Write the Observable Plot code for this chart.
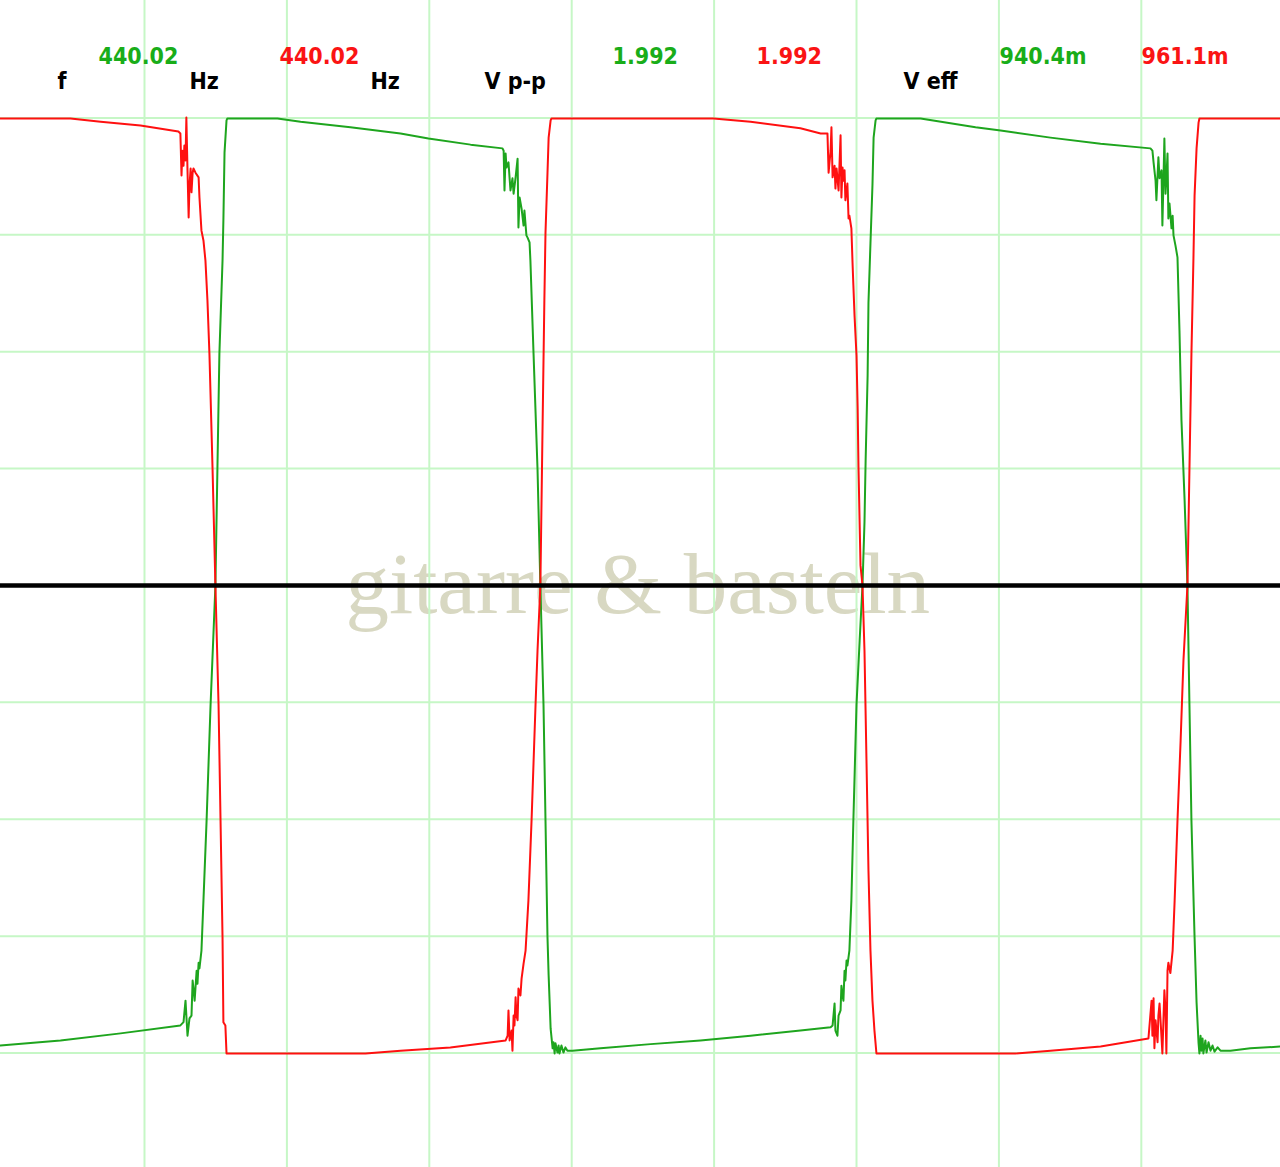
<!DOCTYPE html>
<html>
<head>
<meta charset="utf-8">
<script src="https://cdn.jsdelivr.net/npm/d3@7"></script>
<script src="https://cdn.jsdelivr.net/npm/@observablehq/plot@0.6"></script>
<style>
html,body{margin:0;padding:0;background:#fff;overflow:hidden}
#chart svg{display:block}
</style>
</head>
<body>
<div id="chart"></div>
<script>
// Time in microseconds (0.5 ms / division), voltage in millivolts (0.25 V / division)
const redTrace = [[-6,999],[240,999],[346,992],[486,984],[619,971],[626,967],[630,877],[633,930],[637,898],[640,941],[644,909],[647,1001],[651,888],[655,787],[658,856],[662,892],[665,841],[669,883],[672,892],[679,883],[690,873],[693,830],[700,759],[707,738],[714,695],[721,610],[728,496],[739,248],[749,0],[760,-255],[767,-503],[774,-753],[777,-934],[784,-941],[788,-1001],[1276,-1001],[1399,-995],[1574,-988],[1768,-973],[1775,-963],[1778,-909],[1782,-973],[1789,-952],[1792,-995],[1796,-920],[1799,-941],[1803,-881],[1806,-920],[1810,-930],[1813,-862],[1820,-877],[1824,-841],[1831,-809],[1838,-781],[1848,-674],[1859,-503],[1873,-255],[1880,-139],[1890,0],[1897,310],[1904,610],[1908,755],[1915,883],[1919,958],[1926,995],[1929,999],[2498,999],[2628,992],[2803,978],[2874,967],[2898,967],[2902,883],[2909,930],[2912,980],[2916,873],[2923,898],[2926,849],[2930,892],[2937,845],[2944,963],[2947,830],[2951,894],[2954,866],[2958,888],[2961,824],[2968,860],[2972,785],[2975,791],[2982,764],[2986,691],[2989,642],[2993,578],[3000,492],[3004,379],[3007,252],[3014,43],[3021,0],[3028,-139],[3035,-374],[3042,-610],[3049,-781],[3056,-888],[3063,-952],[3070,-1001],[3558,-1001],[3681,-995],[3857,-986],[4025,-969],[4036,-888],[4039,-963],[4043,-883],[4046,-990],[4050,-930],[4057,-977],[4060,-920],[4064,-894],[4071,-967],[4074,-1001],[4081,-866],[4085,-909],[4088,-1001],[4092,-824],[4095,-807],[4102,-829],[4110,-781],[4117,-674],[4127,-503],[4138,-332],[4148,-160],[4162,0],[4169,248],[4176,496],[4183,699],[4187,834],[4194,935],[4201,990],[4204,999],[4490,999]];

const greenTrace = [[-6,-984],[205,-973],[416,-958],[626,-941],[637,-934],[644,-888],[651,-963],[658,-926],[665,-920],[669,-845],[672,-862],[676,-888],[683,-824],[686,-852],[690,-807],[693,-819],[700,-781],[707,-674],[718,-503],[732,-255],[749,0],[756,248],[763,496],[774,695],[777,781],[781,926],[788,995],[791,999],[967,999],[1048,992],[1223,980],[1399,967],[1497,956],[1645,943],[1757,935],[1761,930],[1764,845],[1768,924],[1771,894],[1778,905],[1785,845],[1792,871],[1796,838],[1803,873],[1810,913],[1813,766],[1817,830],[1824,806],[1831,770],[1834,802],[1841,749],[1845,744],[1852,734],[1855,695],[1866,496],[1880,248],[1890,0],[1901,-255],[1908,-503],[1915,-753],[1919,-834],[1926,-948],[1933,-990],[1936,-977],[1940,-1001],[1943,-979],[1950,-999],[1954,-984],[1957,-1001],[1964,-984],[1971,-999],[1978,-988],[1985,-995],[2003,-995],[2101,-990],[2277,-981],[2452,-973],[2628,-963],[2803,-952],[2909,-945],[2916,-941],[2923,-894],[2926,-952],[2933,-963],[2937,-920],[2944,-909],[2947,-856],[2951,-877],[2954,-888],[2958,-824],[2961,-845],[2965,-802],[2968,-813],[2975,-781],[2982,-674],[2989,-503],[3000,-255],[3011,-118],[3021,0],[3028,135],[3032,267],[3039,449],[3042,605],[3049,732],[3056,856],[3060,958],[3067,995],[3070,999],[3225,999],[3418,980],[3506,973],[3681,958],[3857,945],[4032,935],[4039,930],[4043,905],[4050,866],[4053,824],[4060,916],[4064,871],[4071,888],[4074,770],[4078,873],[4081,956],[4085,838],[4088,871],[4092,924],[4095,785],[4099,817],[4106,764],[4110,791],[4113,749],[4120,727],[4127,702],[4134,545],[4141,353],[4152,182],[4162,0],[4169,-255],[4176,-503],[4187,-753],[4194,-892],[4201,-979],[4204,-1001],[4208,-963],[4211,-995],[4215,-969],[4218,-1001],[4225,-973],[4229,-999],[4236,-977],[4243,-995],[4250,-984],[4257,-997],[4268,-988],[4278,-995],[4313,-995],[4383,-990],[4490,-986]];

const gridTimes = [500, 1000, 1500, 2000, 2500, 3000, 3500, 4000];
const gridVolts = [-1000, -750, -500, -250, 250, 500, 750, 1000];

const headerText = ["f", "440.02", "Hz", "440.02", "Hz", "V p-p", "1.992", "1.992", "V eff", "940.4m", "961.1m"];
const headerRole = ["label", "ch1", "label", "ch2", "label", "label", "ch1", "ch2", "label", "ch1", "ch2"];
const watermark = "gitarre & basteln";

// layout (pixels) – kept apart from the data
const headerLeft = [57, 98, 189, 279, 370, 484, 612, 756, 903, 999, 1141];
const headerBase = [88, 63, 88, 63, 88, 88, 63, 63, 88, 63, 63];
const roleColor = {label: "#000000", ch1: "#19ad19", ch2: "#fa1414"};
const labelFont = "'DejaVu Sans Condensed', 'DejaVu Sans', sans-serif";

const toRows = arr => arr.map(([t, v]) => ({t, v}));
const red = toRows(redTrace);
const green = toRows(greenTrace);

const headerMarks = headerText.map((s, i) => Plot.text([s], {
  text: d => d,
  frameAnchor: "top-left",
  dx: headerLeft[i],
  dy: headerBase[i],
  textAnchor: "start",
  lineAnchor: "bottom",
  fill: roleColor[headerRole[i]],
  fontFamily: labelFont,
  fontWeight: "bold",
  fontSize: 23
}));

const chart = Plot.plot({
  width: 1280,
  height: 1167,
  margin: 0,
  x: {domain: [-5.6, 4488.7], axis: null},
  y: {domain: [-1244.9, 1251.3], axis: null},
  marks: [
    Plot.text([watermark], {
      text: d => d, frameAnchor: "top-left", dx: 345, dy: 612,
      textAnchor: "start", lineAnchor: "bottom",
      fontFamily: "'Liberation Serif', 'DejaVu Serif', serif", fontSize: 87, fill: "#d8d8c2"
    }),
    Plot.ruleX(gridTimes, {x: d => d, stroke: "#c6f7c6", strokeWidth: 2}),
    Plot.ruleY(gridVolts, {y: d => d, stroke: "#c6f7c6", strokeWidth: 2}),
    Plot.line(green, {x: "t", y: "v", stroke: "#1ea51e", strokeWidth: 2}),
    Plot.line(red, {x: "t", y: "v", stroke: "#ff1010", strokeWidth: 2}),
    Plot.ruleY([0], {stroke: "#000", strokeWidth: 4.5}),
    ...headerMarks
  ]
});
chart.style.fontStretch = "condensed";
document.getElementById("chart").appendChild(chart);
</script>
</body>
</html>
